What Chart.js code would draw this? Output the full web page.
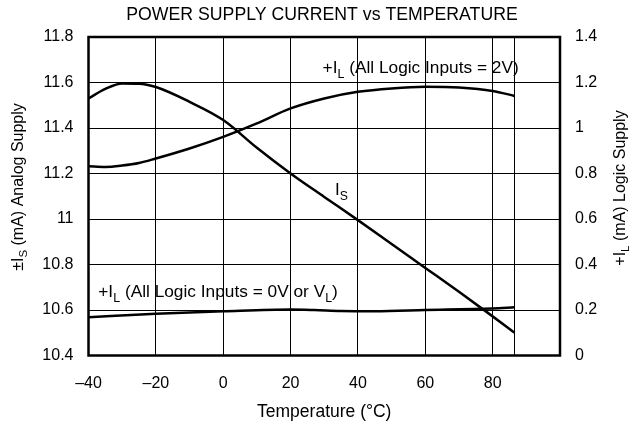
<!DOCTYPE html>
<html>
<head>
<meta charset="utf-8">
<script src="https://cdn.jsdelivr.net/npm/chart.js@4.4.0/dist/chart.umd.min.js"></script>
<style>
  html, body { margin: 0; padding: 0; background: #fff; }
</style>
</head>
<body>
<canvas id="chart" width="640" height="426"></canvas>
<script>
// Temperature axis (deg C) and tick marks
var xTickVals = [-40, -20, 0, 20, 40, 60, 80, 86.5, 100];
var yLeftTicks = [10.4, 10.6, 10.8, 11, 11.2, 11.4, 11.6, 11.8];
var yRightTicks = [0, 0.2, 0.4, 0.6, 0.8, 1, 1.2, 1.4];

// ±IS analog supply current (mA), left axis
var isTemps = [-40, -35, -30, -25, -20, -10, 0, 10, 20, 30, 40, 50, 60, 70, 80, 86.5];
var isVals = [11.53, 11.572, 11.596, 11.595, 11.58, 11.515, 11.435, 11.313, 11.2, 11.097, 10.995, 10.89, 10.785, 10.68, 10.572, 10.50];

// +IL logic supply current, all logic inputs = 2V (mA), right axis
var il2Temps = [-40, -35, -30, -25, -20, -10, 0, 10, 20, 30, 40, 50, 60, 70, 80, 86.5];
var il2Vals = [0.832, 0.829, 0.835, 0.846, 0.866, 0.91, 0.961, 1.02, 1.086, 1.13, 1.159, 1.174, 1.181, 1.178, 1.163, 1.141];

// +IL logic supply current, all logic inputs = 0V or VL (mA), right axis
var il0Temps = [-40, -20, 0, 20, 27, 35, 45, 60, 80, 86.5];
var il0Vals = [0.168, 0.183, 0.194, 0.202, 0.2, 0.196, 0.195, 0.2, 0.207, 0.212];

var FONT = "'Liberation Sans', Arial, sans-serif";
Chart.defaults.font.family = FONT;
Chart.defaults.color = '#000';

function toPoints(xs, ys) {
    return xs.map(function (x, i) { return { x: x, y: ys[i] }; });
}

function fmtNum(v) {
    return String(Number(v.toFixed(1)));
}

// draw text pieces, some of them as subscripts, starting at x on baseline y
function drawRich(ctx, parts, x, y, size) {
    var cx = x;
    parts.forEach(function (p) {
        var s = p[1] ? size * 0.72 : size;
        ctx.font = s + 'px ' + FONT;
        ctx.fillText(p[0], cx, p[1] ? y + size * 0.28 : y);
        cx += ctx.measureText(p[0]).width;
    });
}

function richWidth(ctx, parts, size) {
    var w = 0;
    parts.forEach(function (p) {
        var s = p[1] ? size * 0.72 : size;
        ctx.font = s + 'px ' + FONT;
        w += ctx.measureText(p[0]).width;
    });
    return w;
}

function drawRotated(ctx, parts, cx, cy, size) {
    ctx.save();
    ctx.translate(cx, cy);
    ctx.rotate(-Math.PI / 2);
    var w = richWidth(ctx, parts, size);
    drawRich(ctx, parts, -w / 2, size * 0.36, size);
    ctx.restore();
}

// frame, axis titles and curve labels
var labelsPlugin = {
    id: 'labels',
    afterDatasetsDraw: function (chart) {
        var ctx = chart.ctx;
        var a = chart.chartArea;
        var x = chart.scales.x, y = chart.scales.y, y2 = chart.scales.y2;
        ctx.save();
        ctx.strokeStyle = '#000';
        ctx.lineWidth = 2.5;
        ctx.strokeRect(a.left, a.top, a.right - a.left, a.bottom - a.top);

        ctx.fillStyle = '#000';
        ctx.textBaseline = 'alphabetic';
        ctx.textAlign = 'left';
        drawRich(ctx, [['+I', 0], ['L', 1], [' (All Logic Inputs = 2V)', 0]],
            x.getPixelForValue(29.5), y2.getPixelForValue(1.242), 17.3);
        drawRich(ctx, [['I', 0], ['S', 1]],
            x.getPixelForValue(33.2), y.getPixelForValue(11.105), 17);
        drawRich(ctx, [['+I', 0], ['L', 1], [' (All Logic Inputs = 0V or V', 0], ['L', 1], [')', 0]],
            x.getPixelForValue(-37.1), y2.getPixelForValue(0.258), 17.3);

        drawRotated(ctx, [['\u00b1I', 0], ['S', 1], [' (mA) Analog Supply', 0]], 17, 187, 16);
        drawRotated(ctx, [['+I', 0], ['L', 1], [' (mA) Logic Supply', 0]], 619, 188, 16);

        ctx.font = '17.5px ' + FONT;
        ctx.textAlign = 'center';
        ctx.fillText('Temperature (\u00b0C)', (a.left + a.right) / 2, 417);
        ctx.restore();
    }
};

var ctx = document.getElementById('chart').getContext('2d');

var lineStyle = {
    borderColor: '#000',
    borderWidth: 2.5,
    pointRadius: 0,
    fill: false,
    cubicInterpolationMode: 'monotone'
};

window.myChart = new Chart(ctx, {
    type: 'line',
    data: {
        datasets: [
            Object.assign({ label: 'IS', data: toPoints(isTemps, isVals), yAxisID: 'y' }, lineStyle),
            Object.assign({ label: 'IL 2V', data: toPoints(il2Temps, il2Vals), yAxisID: 'y2' }, lineStyle),
            Object.assign({ label: 'IL 0V', data: toPoints(il0Temps, il0Vals), yAxisID: 'y2' }, lineStyle)
        ]
    },
    options: {
        responsive: false,
        animation: false,
        devicePixelRatio: 1,
        layout: { padding: { left: 4, right: 0, top: 0, bottom: 0 } },
        plugins: {
            legend: { display: false },
            tooltip: { enabled: false },
            title: {
                display: true,
                text: 'POWER SUPPLY CURRENT vs TEMPERATURE',
                font: { size: 17.7, weight: 'normal' },
                color: '#000',
                padding: { top: 4, bottom: 11.76 }
            }
        },
        scales: {
            x: {
                type: 'linear',
                min: -40,
                max: 100,
                afterBuildTicks: function (s) { s.ticks = xTickVals.map(function (v) { return { value: v }; }); },
                afterFit: function (s) { s.height = 70.5; },
                grid: { color: '#000', lineWidth: 1, drawTicks: false },
                border: { display: false },
                ticks: {
                    font: { size: 16 },
                    padding: 18,
                    maxRotation: 0,
                    autoSkip: false,
                    callback: function (v) {
                        if (v === 86.5 || v === 100) return '';
                        return v < 0 ? '\u2013' + Math.abs(v) : String(v);
                    }
                }
            },
            y: {
                position: 'left',
                min: 10.4,
                max: 11.8,
                afterBuildTicks: function (s) { s.ticks = yLeftTicks.map(function (v) { return { value: v }; }); },
                afterFit: function (s) { s.width = 84.5; },
                grid: { color: '#000', lineWidth: 1, drawTicks: false },
                border: { display: false },
                ticks: { font: { size: 16 }, padding: 15, callback: fmtNum }
            },
            y2: {
                position: 'right',
                min: 0,
                max: 1.4,
                afterBuildTicks: function (s) { s.ticks = yRightTicks.map(function (v) { return { value: v }; }); },
                afterFit: function (s) { s.width = 80; },
                grid: { drawOnChartArea: false, drawTicks: false },
                border: { display: false },
                ticks: { font: { size: 16 }, padding: 15, callback: fmtNum }
            }
        }
    },
    plugins: [labelsPlugin]
});
</script>
</body>
</html>
